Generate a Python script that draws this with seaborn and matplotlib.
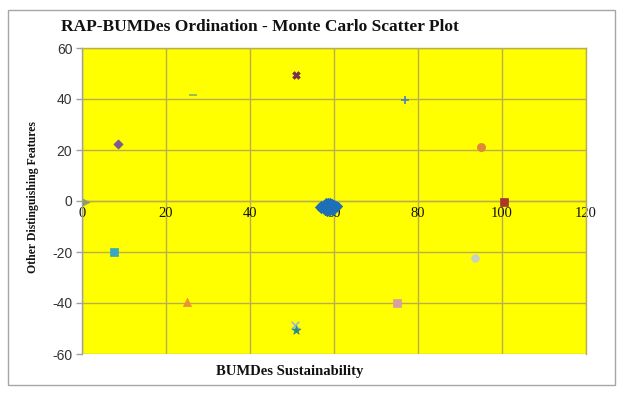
import matplotlib
matplotlib.use("Agg")
import matplotlib.pyplot as plt
import seaborn as sns
import pandas as pd
from matplotlib.patches import Rectangle

# ---- data ----
cluster_x = [57.0, 57.5, 58.0, 58.5, 59.0, 59.5, 60.0, 60.5, 61.0, 56.5,
             57.2, 57.8, 58.3, 58.8, 59.3, 59.8, 60.3, 60.8, 57.5, 58.0,
             58.6, 59.1, 59.6, 60.1, 57.0, 57.8, 58.4, 59.0, 59.7, 58.2]
cluster_y = [-1.5, -1.0, -0.5, -0.2, -0.4, -0.8, -1.2, -1.6, -2.0, -2.2,
             -2.5, -2.0, -1.8, -1.5, -2.4, -2.6, -2.8, -2.3, -3.2, -3.5,
             -3.0, -3.3, -3.6, -3.1, -3.0, -4.0, -4.2, -3.8, -4.0, -2.8]

anchor_x = [1.0, 8.5, 26.5, 51.0, 77.0, 95.0, 100.5, 7.5, 25.0, 50.7, 51.0, 93.5, 75.0]
anchor_y = [-0.5, 22.5, 41.5, 49.5, 39.5, 21.0, -0.5, -20.0, -39.5, -48.5, -50.5, -22.5, -40.0]

x_ticks = [0, 20, 40, 60, 80, 100, 120]
y_ticks = [-60, -40, -20, 0, 20, 40, 60]

# ---- styles ----
anchor_markers = ['>', 'D', '_', 'X', '+', 'o', 's', 's', '^', 'x', '*', 'o', 's']
anchor_colors = ['#8C9C70', '#7E5A90', '#8CB060', '#7A3050', '#4A7FC0', '#E0883A',
                 '#A8382A', '#3AA8C0', '#F0903A', '#9AB8D8', '#2A8A8A', '#C8D0C8', '#D8A0A0']
anchor_sizes = [25, 22, 40, 30, 30, 35, 35, 40, 35, 30, 45, 30, 35]

grid_c = '#BCAE4E'

sns.set_theme(style="white")
plt.rcParams['axes.unicode_minus'] = False
plt.rcParams['grid.color'] = grid_c
plt.rcParams['grid.linewidth'] = 1.0
plt.rcParams['grid.alpha'] = 1.0

fig = plt.figure(figsize=(6.24, 3.95), dpi=100)
fig.patch.set_facecolor('white')
fig.patches.append(Rectangle((8/624, 1-385/395), (615-8)/624, (385-10)/395,
                             transform=fig.transFigure, fill=False,
                             edgecolor='#A6A6A6', linewidth=1.0))

ax = fig.add_axes([82/624, 1-354/395, (586-82)/624, (354-48)/395])
ax.set_facecolor('#FFFF00')

cl = pd.DataFrame({'x': cluster_x, 'y': cluster_y})
sns.scatterplot(data=cl, x='x', y='y', ax=ax, marker='D', s=18,
                color='#1F6EB8', edgecolor='#1F6EB8', linewidth=0.5, zorder=4)

for xv, yv, m, c, s in zip(anchor_x, anchor_y, anchor_markers, anchor_colors, anchor_sizes):
    kw = dict(edgecolor=c) if m not in ('_', '+', 'x') else dict()
    sns.scatterplot(x=[xv], y=[yv], ax=ax, marker=m, s=s, color=c,
                    linewidth=1.2 if m in ('_', '+', 'x') else 0.5, zorder=4, **kw)

ax.set_xlim(0, 120)
ax.set_ylim(-60, 60)
ax.set_xticks(x_ticks)
ax.set_yticks(y_ticks)
ax.grid(True, color=grid_c, linewidth=1.0, alpha=1.0)
ax.set_axisbelow(True)
for sp in ax.spines.values():
    sp.set_color(grid_c)
    sp.set_linewidth(1.0)
ax.spines['bottom'].set_position(('data', 0))
ax.spines['left'].set_color('#A0A0A0')

ax.set_xlabel('')
ax.set_ylabel('')
ax.tick_params(axis='x', length=0, pad=4, labelsize=10.5, labelcolor='#111111')
ax.tick_params(axis='y', length=4, width=1, color='#A0A0A0', pad=3,
               labelsize=10, labelcolor='#333333', left=True)
for lab in ax.get_xticklabels():
    lab.set_fontfamily('Liberation Serif')
for lab in ax.get_yticklabels():
    lab.set_fontfamily('Liberation Sans')

fig.text(260/624, 1-27/395, 'RAP-BUMDes Ordination - Monte Carlo Scatter Plot',
         ha='center', va='center', fontsize=12.5, fontweight='bold',
         family='Liberation Serif', color='#111111')
fig.text(290/624, 1-371/395, 'BUMDes Sustainability', ha='center', va='center',
         fontsize=10.5, fontweight='bold', family='Liberation Serif', color='#111111')
fig.text(33/624, 1-197/395, 'Other Distinguishing Features', ha='center', va='center',
         rotation=90, fontsize=8.5, fontweight='bold', family='Liberation Serif',
         color='#111111')

fig.savefig('out.png', dpi=100)
